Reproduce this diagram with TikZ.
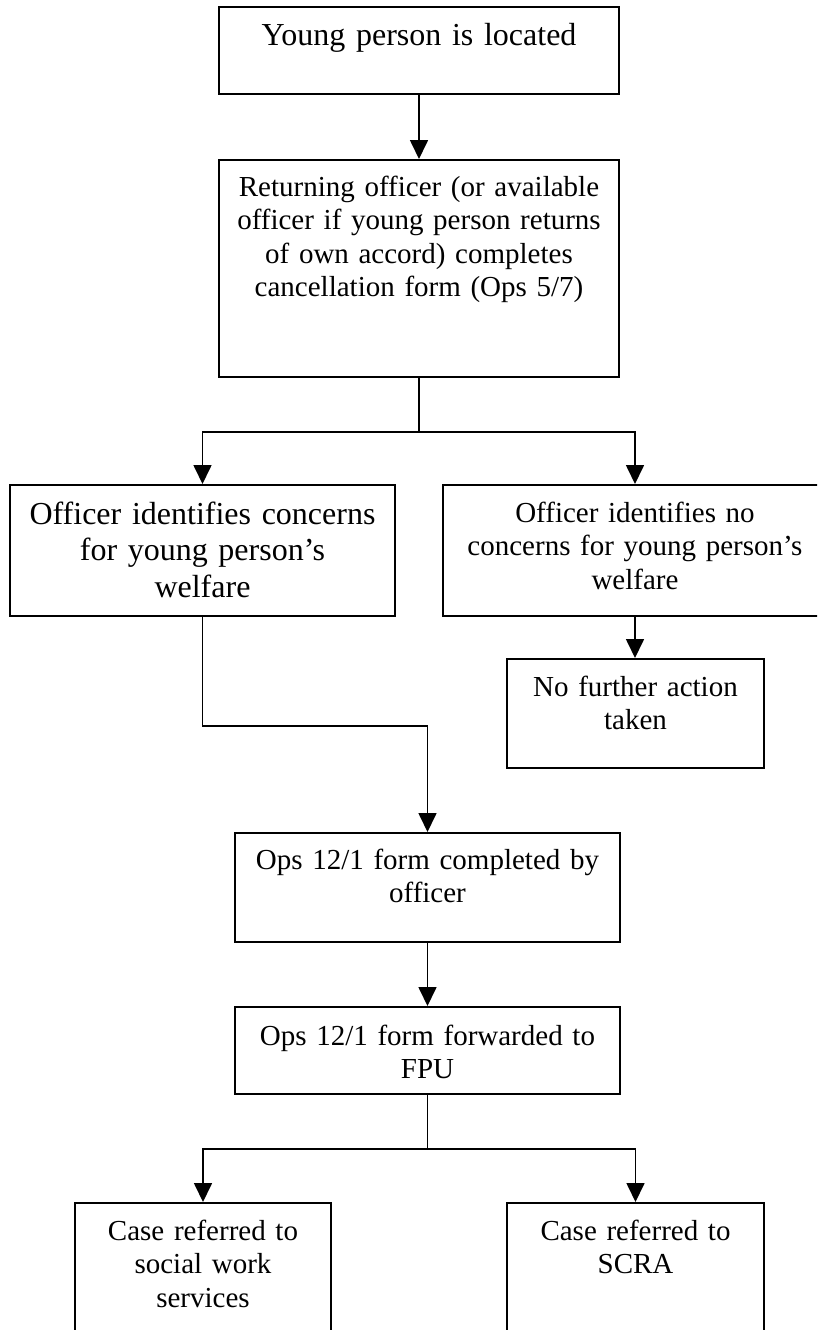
\documentclass[tikz,border=0pt]{standalone}
\usepackage{fontspec}
\setmainfont{Liberation Serif}
\usepackage{tikz}
\usetikzlibrary{arrows.meta, positioning, calc}
\newcommand{\bigtext}{\fontsize{32}{36.7}\selectfont}
\newcommand{\boxtext}{\fontsize{29}{33.5}\selectfont}
\tikzset{
  flowbox/.style={draw, line width=2pt, inner sep=0pt},
  boxlabel/.style={anchor=base, inner sep=0pt, text width=#1, align=center, font=\boxtext},
  flowline/.style={line width=1.7pt},
  flowarrow/.style={line width=1.7pt, -{Triangle[length=19pt, width=18pt]}}
}
\begin{document}
\begin{tikzpicture}[x=1pt, y=1pt]
        \useasboundingbox[fill=white] (0,0) rectangle (817,-1330);
        \clip (0,0) rectangle (817,-1330);
        % Boxes
        \node[flowbox, minimum width=400, minimum height=87] (located) at (419,-50.5) {};
        \node[flowbox, minimum width=400, minimum height=217] (cancel) at (419,-268.5) {};
        \node[flowbox, minimum width=385, minimum height=131] (concern) at (202.5,-550.5) {};
        \node[flowbox, minimum width=384, minimum height=131] (noconcern) at (635,-550.5) {};
        \node[flowbox, minimum width=257, minimum height=109] (nfa) at (635.5,-713.5) {};
        \node[flowbox, minimum width=385, minimum height=109] (completed) at (427.5,-887.5) {};
        \node[flowbox, minimum width=385, minimum height=87] (forwarded) at (427.5,-1050.5) {};
        \node[flowbox, minimum width=256, minimum height=157] (social) at (203,-1281.5) {};
        \node[flowbox, minimum width=257, minimum height=157] (scra) at (635.5,-1281.5) {};
        % Texts
        \node[boxlabel=390, font=\bigtext] (locatedtxt) at ([yshift=-40]located.north)
          {Young person is located};
        \node[boxlabel=390] (canceltxt) at ([yshift=-37]cancel.north)
          {Returning officer (or available\\ officer if young person returns\\ of own accord) completes\\ cancellation form (Ops 5/7)};
        \node[boxlabel=380, font=\bigtext] (concerntxt) at ([yshift=-40]concern.north)
          {Officer identifies concerns\\ for young person's\\ welfare};
        \node[boxlabel=380] (noconcerntxt) at ([yshift=-38]noconcern.north)
          {Officer identifies no\\ concerns for young person's\\ welfare};
        \node[boxlabel=250] (nfatxt) at ([yshift=-38]nfa.north)
          {No further action\\ taken};
        \node[boxlabel=380] (completedtxt) at ([yshift=-37]completed.north)
          {Ops 12/1 form completed by\\ officer};
        \node[boxlabel=380] (forwardedtxt) at ([yshift=-39]forwarded.north)
          {Ops 12/1 form forwarded to\\ FPU};
        \node[boxlabel=250] (socialtxt) at ([yshift=-38]social.north)
          {Case referred to\\ social work\\ services};
        \node[boxlabel=250] (scratxt) at ([yshift=-38]scra.north)
          {Case referred to\\ SCRA};
        % Connectors
        \draw[flowarrow] (located) -- (cancel);
        \draw[flowline] (cancel.south) -- ++(0,-54) coordinate (split1);
        \draw[flowarrow] (split1) -| (concern.north);
        \draw[flowarrow] (split1) -| (noconcern.north);
        \draw[flowarrow] (noconcern.south) -- (noconcern.south |- nfa.north);
        \draw[flowarrow] (concern.south) -- ++(0,-109) -| (completed.north);
        \draw[flowarrow] (completed) -- (forwarded);
        \draw[flowline] (forwarded.south) -- ++(0,-54) coordinate (split2);
        \draw[flowarrow] (split2) -| (social.north);
        \draw[flowarrow] (split2) -| (scra.north);
      \end{tikzpicture}
\end{document}
